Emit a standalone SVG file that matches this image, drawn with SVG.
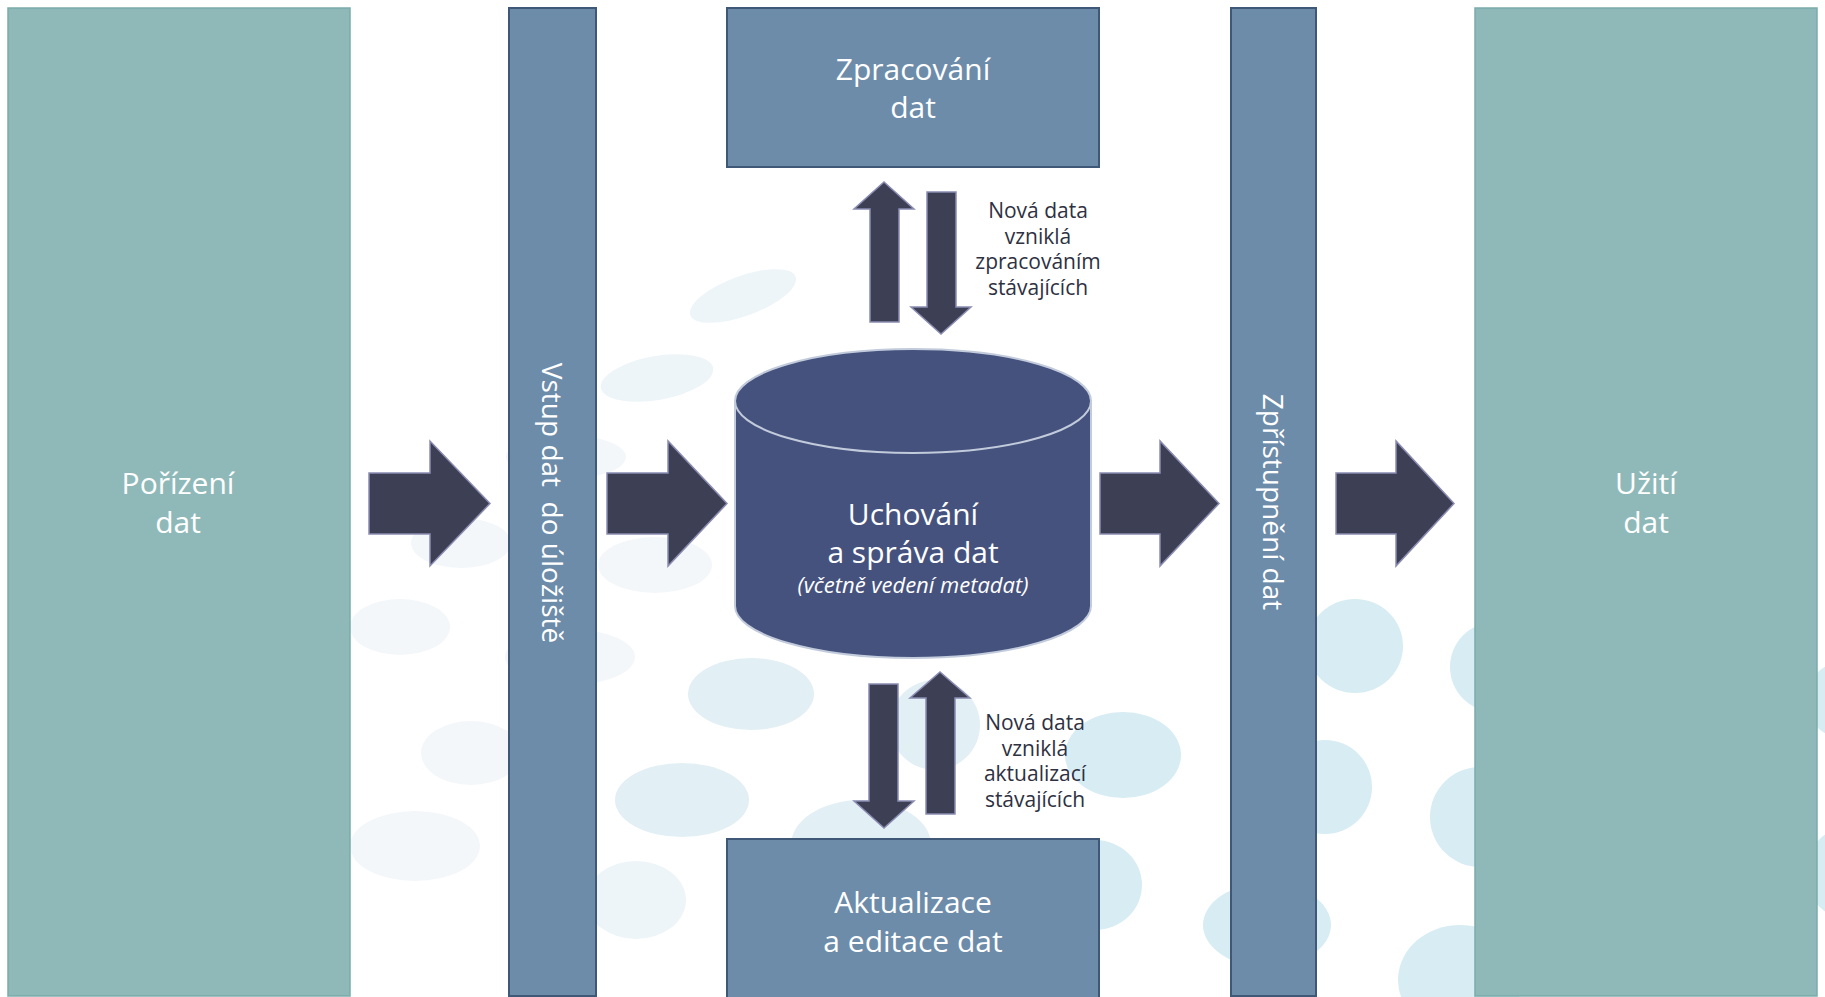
<svg xmlns="http://www.w3.org/2000/svg" width="1825" height="997" viewBox="0 0 1825 997">
<style>
.bg0{fill:#f4f7fa}
.bg1{fill:#eef5f8}
.bg2{fill:#e2eff5}
.bg3{fill:#d8ecf3}
.teal{fill:#8fb9b9;stroke:#79acab;stroke-width:1.5}
.bar{fill:#6d8caa;stroke:#3f5877;stroke-width:2}
.arr{fill:#3d4055;stroke:#8b8cb2;stroke-width:1.5;stroke-linejoin:miter}
.cyl{fill:#46527e;stroke:#c2cbdb;stroke-width:2}
.big{font-family:"Open Sans","Liberation Sans",sans-serif;font-size:30px;fill:#ffffff;text-anchor:middle}
.vert{font-family:"Open Sans","Liberation Sans",sans-serif;font-size:28px;fill:#ffffff;text-anchor:middle}
.it{font-family:"Open Sans","Liberation Sans",sans-serif;font-size:22px;font-style:italic;fill:#ffffff;text-anchor:middle}
.sm{font-family:"Open Sans","Liberation Sans",sans-serif;font-size:21px;fill:#2e3142;text-anchor:middle}
</style>
<rect width="1825" height="997" fill="#ffffff"/>
<g id="background">
<ellipse class="bg1" cx="743" cy="296" rx="56" ry="20" transform="rotate(-20 743 296)"/>
<ellipse class="bg1" cx="657" cy="378" rx="57" ry="22" transform="rotate(-10 657 378)"/>
<ellipse class="bg0" cx="566" cy="457" rx="60" ry="22"/>
<ellipse class="bg0" cx="461" cy="543" rx="50" ry="25"/>
<ellipse class="bg0" cx="655" cy="565" rx="57" ry="28"/>
<ellipse class="bg0" cx="400" cy="627" rx="50" ry="28"/>
<ellipse class="bg0" cx="570" cy="657" rx="65" ry="28"/>
<ellipse class="bg0" cx="471" cy="753" rx="50" ry="32"/>
<ellipse class="bg0" cx="415" cy="846" rx="65" ry="35"/>
<ellipse class="bg1" cx="636" cy="900" rx="50" ry="39"/>
<ellipse class="bg2" cx="751" cy="694" rx="63" ry="36"/>
<ellipse class="bg2" cx="682" cy="800" rx="67" ry="37"/>
<ellipse class="bg2" cx="861" cy="845" rx="70" ry="45"/>
<ellipse class="bg2" cx="935" cy="725" rx="45" ry="45"/>
<ellipse class="bg3" cx="1123" cy="755" rx="58" ry="43"/>
<ellipse class="bg3" cx="1095" cy="885" rx="47" ry="45"/>
<ellipse class="bg3" cx="1355" cy="646" rx="48" ry="47"/>
<ellipse class="bg3" cx="1325" cy="787" rx="47" ry="47"/>
<ellipse class="bg3" cx="1267" cy="925" rx="64" ry="42"/>
<ellipse class="bg3" cx="1495" cy="667" rx="45" ry="45"/>
<ellipse class="bg3" cx="1480" cy="817" rx="50" ry="50"/>
<ellipse class="bg3" cx="1460" cy="980" rx="62" ry="55"/>
<ellipse class="bg3" cx="1850" cy="700" rx="45" ry="40"/>
<ellipse class="bg3" cx="1855" cy="873" rx="50" ry="48"/>
</g>
<g id="porizeni">
<rect class="teal" x="8" y="8" width="342" height="988"/>
<text class="big" x="178" y="494">Pořízení</text>
<text class="big" x="178" y="533">dat</text>
</g>
<g id="vstup">
<rect class="bar" x="509" y="8" width="87" height="988"/>
<text class="vert" transform="translate(552 503) rotate(90)" y="10" xml:space="preserve">Vstup dat  do úložiště</text>
</g>
<g id="zpracovani">
<rect class="bar" x="727" y="8" width="372" height="159"/>
<text class="big" x="913" y="80">Zpracování</text>
<text class="big" x="913" y="118">dat</text>
</g>
<g id="uchovani">
<path class="cyl" d="M735,401 V606 A178,52 0 0 0 1091,606 V401 Z"/>
<ellipse class="cyl" cx="913" cy="401" rx="178" ry="52"/>
<text class="big" x="913" y="525">Uchování</text>
<text class="big" x="913" y="563">a správa dat</text>
<text class="it" x="913" y="593">(včetně vedení metadat)</text>
</g>
<g id="aktualizace">
<rect class="bar" x="727" y="839" width="372" height="170"/>
<text class="big" x="913" y="913">Aktualizace</text>
<text class="big" x="913" y="952">a editace dat</text>
</g>
<g id="zpristupneni">
<rect class="bar" x="1231" y="8" width="85" height="988"/>
<text class="vert" transform="translate(1273 502) rotate(90)" y="10">Zpřístupnění dat</text>
</g>
<g id="uziti">
<rect class="teal" x="1475" y="8" width="342" height="988"/>
<text class="big" x="1646" y="494">Užití</text>
<text class="big" x="1646" y="533">dat</text>
</g>
<g id="connectors">
<path class="arr" d="M369,473 H430 V441 L490,503.5 L430,566 V534 H369 Z"/>
<path class="arr" d="M607,473 H668 V441 L727,503.5 L668,566 V534 H607 Z"/>
<path class="arr" d="M1100,473 H1160 V441 L1219,503.5 L1160,566 V534 H1100 Z"/>
<path class="arr" d="M1336,473 H1396 V441 L1454,503.5 L1396,566 V534 H1336 Z"/>
<path class="arr" d="M870,322 V209 H854 L884,182 L914,209 H899 V322 Z"/>
<path class="arr" d="M927,192 H956 V307 H971 L941,334 L911,307 H927 Z"/>
<path class="arr" d="M869,684 H898 V801 H914 L884,828 L854,801 H869 Z"/>
<path class="arr" d="M926,814 V698 H910 L940,672 L970,698 H955 V814 Z"/>
</g>
<g id="label-top">
<text class="sm" x="1038" y="218">Nová data</text>
<text class="sm" x="1038" y="243.5">vzniklá</text>
<text class="sm" x="1038" y="269">zpracováním</text>
<text class="sm" x="1038" y="294.5">stávajících</text>
</g>
<g id="label-bottom">
<text class="sm" x="1035" y="730">Nová data</text>
<text class="sm" x="1035" y="755.5">vzniklá</text>
<text class="sm" x="1035" y="781">aktualizací</text>
<text class="sm" x="1035" y="806.5">stávajících</text>
</g>
</svg>
